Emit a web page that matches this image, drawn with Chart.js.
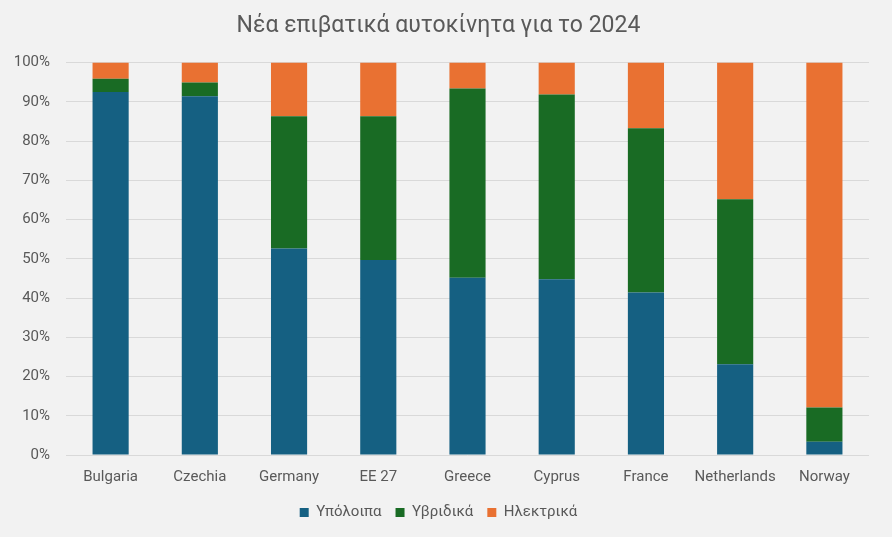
<!DOCTYPE html>
<html>
<head>
<meta charset="utf-8">
<script src="https://cdn.jsdelivr.net/npm/chart.js@4"></script>
<style>
  html, body { margin: 0; padding: 0; background: #f2f2f2; }
  #wrap { width: 892px; height: 537px; }
</style>
</head>
<body>
<div id="wrap"><canvas id="carsChart"></canvas></div>
<script>
const countries = ['Bulgaria', 'Czechia', 'Germany', 'EE 27', 'Greece', 'Cyprus', 'France', 'Netherlands', 'Norway'];
const other = [92.5, 91.4, 52.6, 49.7, 45.2, 44.8, 41.4, 23.1, 3.4];
const hybrid = [3.4, 3.5, 33.7, 36.6, 48.2, 47.1, 41.9, 42.1, 8.7];
const electric = [4.1, 5.1, 13.7, 13.7, 6.6, 8.1, 16.7, 34.8, 87.9];
const yTicks = [0, 10, 20, 30, 40, 50, 60, 70, 80, 90, 100];

const textColor = '#595959';
const fontFamily = 'Roboto, "Noto Sans", sans-serif';

const bgPlugin = {
  id: 'bg',
  beforeDraw(chart) {
    const ctx = chart.ctx;
    ctx.save();
    ctx.fillStyle = '#f2f2f2';
    ctx.fillRect(0, 0, chart.width, chart.height);
    ctx.restore();
  }
};

const ctx = document.getElementById('carsChart').getContext('2d');
new Chart(ctx, {
  type: 'bar',
  data: {
    labels: countries,
    datasets: [
      { label: 'Υπόλοιπα', data: other, backgroundColor: '#156082' },
      { label: 'Υβριδικά', data: hybrid, backgroundColor: '#196b24' },
      { label: 'Ηλεκτρικά', data: electric, backgroundColor: '#e97132' }
    ]
  },
  options: {
    responsive: true,
    maintainAspectRatio: false,
    animation: false,
    layout: { padding: { left: 8, right: 23, top: 10, bottom: 7 } },
    datasets: { bar: { categoryPercentage: 1, barPercentage: 0.405 } },
    scales: {
      x: {
        stacked: true,
        grid: { display: false },
        border: { display: false },
        ticks: { color: textColor, font: { family: fontFamily, size: 15 }, padding: 5 }
      },
      y: {
        stacked: true,
        min: 0,
        max: 100,
        afterBuildTicks(axis) { axis.ticks = yTicks.map(v => ({ value: v })); },
        afterFit(axis) { axis.width = 58; },
        grid: { color: '#d9d9d9', lineWidth: 1, drawTicks: false },
        border: { display: false },
        ticks: {
          color: textColor,
          font: { family: fontFamily, size: 15 },
          padding: 16,
          callback: v => v + '%'
        }
      }
    },
    plugins: {
      title: {
        display: true,
        text: 'Νέα επιβατικά αυτοκίνητα για το 2024',
        color: textColor,
        font: { family: fontFamily, size: 23, weight: 'normal' },
        padding: { top: 2, bottom: 23 }
      },
      legend: {
        position: 'bottom',
        labels: {
          color: textColor,
          font: { family: fontFamily, size: 15 },
          boxWidth: 9,
          boxHeight: 9,
          padding: 14
        }
      },
      tooltip: { enabled: false }
    }
  },
  plugins: [bgPlugin]
});
</script>
</body>
</html>
